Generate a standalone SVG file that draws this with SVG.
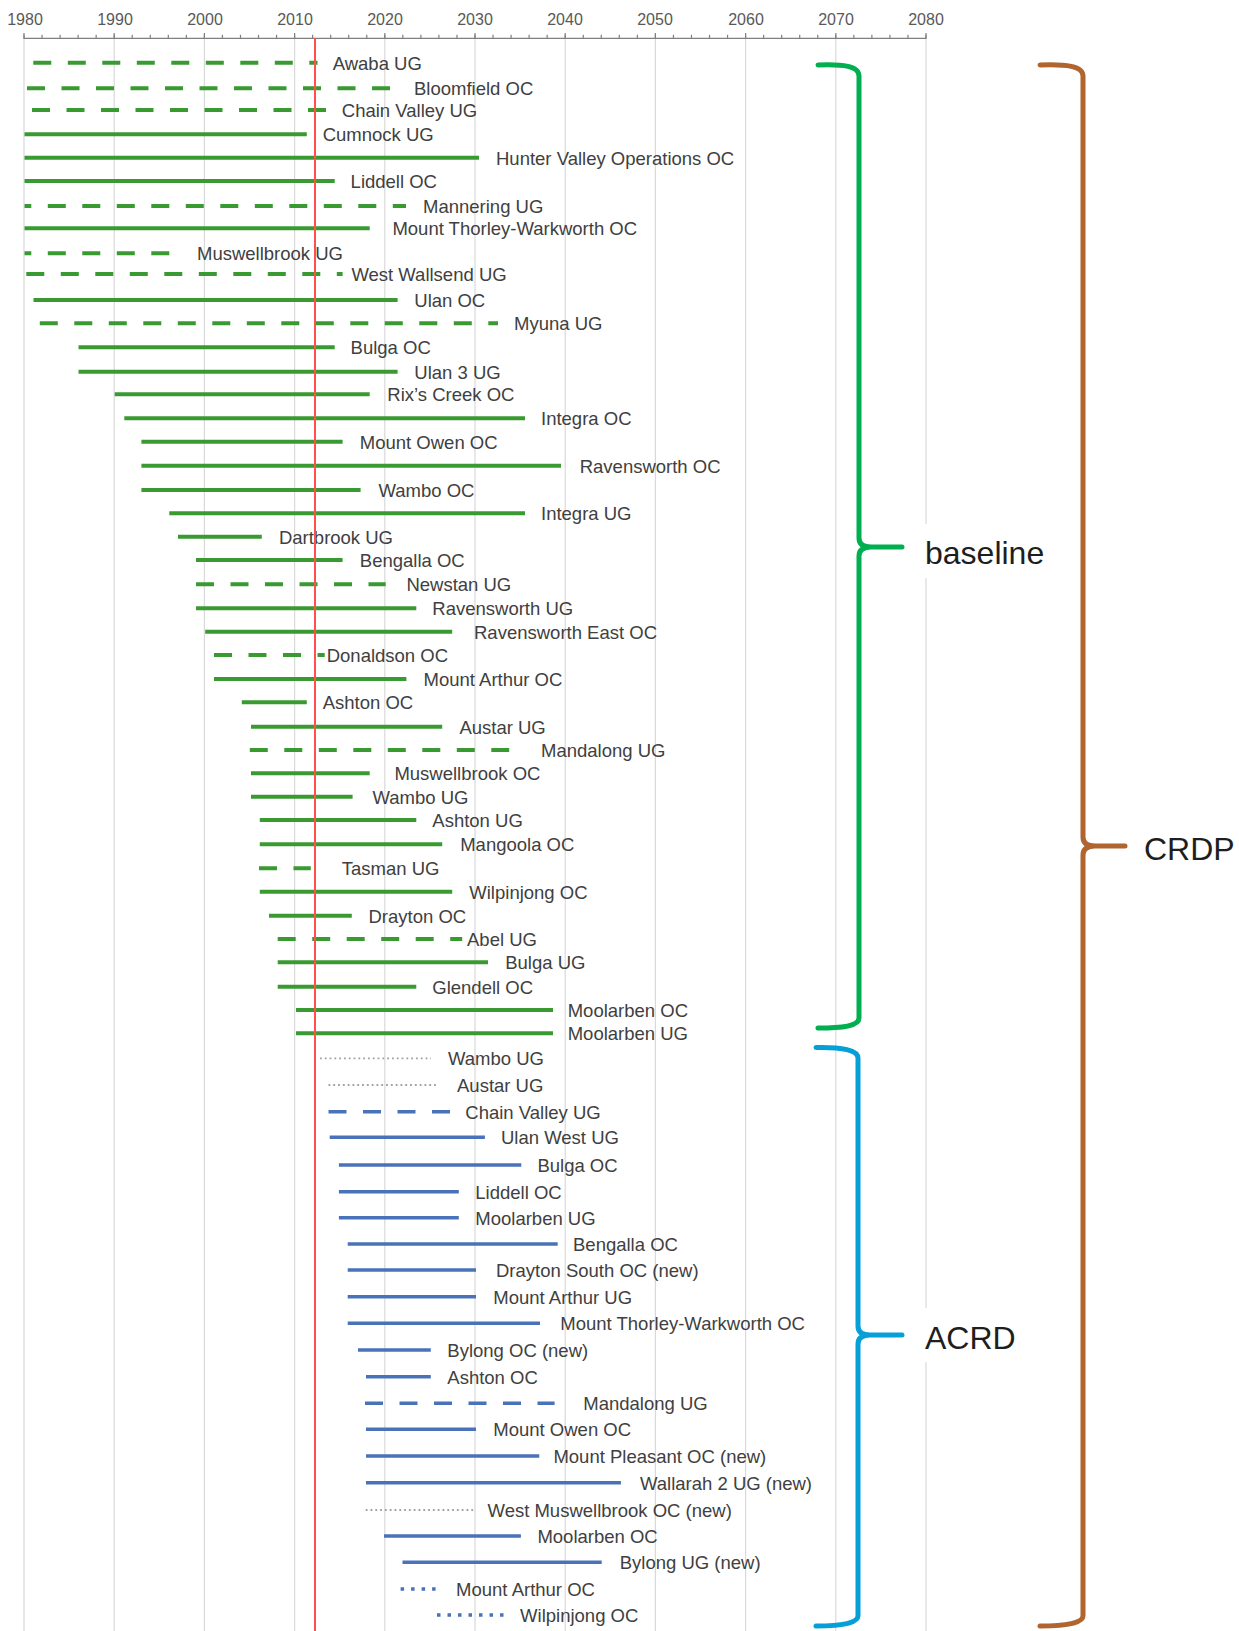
<svg xmlns="http://www.w3.org/2000/svg" width="1239" height="1631" viewBox="0 0 1239 1631">
<style>
.bg{fill:#ffffff}
.grid{stroke:#d9d9d9;stroke-width:1.2;fill:none}
.axis{stroke:#808080;stroke-width:1.2;fill:none}
.yr{font-family:"Liberation Sans",Arial,sans-serif;font-size:16px;fill:#595959;text-anchor:middle}
.g{stroke:#3a9a32;stroke-width:4;fill:none}
.gd{stroke-dasharray:18 16.5}
.b{stroke:#4a72b8;stroke-width:3.5;fill:none}
.bd{stroke-dasharray:18 16.5}
.bdot{stroke-dasharray:3.5 7}
.gray{stroke:#a0a0a0;stroke-width:1.8;fill:none;stroke-dasharray:1.8 3}
.lbl{font-family:"Liberation Sans",Arial,sans-serif;font-size:18.5px;fill:#404040}
.red{stroke:#ff4f4f;stroke-width:2;fill:none}
.brace{fill:none;stroke-width:5;stroke-linecap:round;stroke-linejoin:round}
.big{font-family:"Liberation Sans",Arial,sans-serif;font-size:32px;fill:#1e1e1e}
</style>
<rect class="bg" x="0" y="0" width="1239" height="1631"/>
<g id="axis">
<g id="gridlines">
<line class="grid" x1="24" y1="38" x2="24" y2="1631"/>
<line class="grid" x1="114.2" y1="38" x2="114.2" y2="1631"/>
<line class="grid" x1="204.4" y1="38" x2="204.4" y2="1631"/>
<line class="grid" x1="294.6" y1="38" x2="294.6" y2="1631"/>
<line class="grid" x1="384.8" y1="38" x2="384.8" y2="1631"/>
<line class="grid" x1="475" y1="38" x2="475" y2="1631"/>
<line class="grid" x1="565.2" y1="38" x2="565.2" y2="1631"/>
<line class="grid" x1="655.4" y1="38" x2="655.4" y2="1631"/>
<line class="grid" x1="745.6" y1="38" x2="745.6" y2="1631"/>
<line class="grid" x1="835.8" y1="38" x2="835.8" y2="1631"/>
<line class="grid" x1="926" y1="38" x2="926" y2="1631"/>
</g>
<line class="axis" x1="24" y1="38.3" x2="926" y2="38.3"/>
<line x1="23.4" y1="36.5" x2="927" y2="36.5" stroke="#808080" stroke-width="3.6" stroke-dasharray="1.2 16.84"/>
<path class="axis" d="M24,33V39M114.2,33V39M204.4,33V39M294.6,33V39M384.8,33V39M475,33V39M565.2,33V39M655.4,33V39M745.6,33V39M835.8,33V39M926,33V39"/>
<text class="yr" x="25" y="25">1980</text>
<text class="yr" x="115" y="25">1990</text>
<text class="yr" x="205" y="25">2000</text>
<text class="yr" x="295" y="25">2010</text>
<text class="yr" x="385" y="25">2020</text>
<text class="yr" x="475" y="25">2030</text>
<text class="yr" x="565" y="25">2040</text>
<text class="yr" x="655" y="25">2050</text>
<text class="yr" x="746" y="25">2060</text>
<text class="yr" x="836" y="25">2070</text>
<text class="yr" x="926" y="25">2080</text>
</g>
<g id="baseline-rows">
<g id="b01"><line class="g gd" x1="33.3" y1="62.7" x2="317.5" y2="62.7"/><text class="lbl" x="332.7" y="69.7">Awaba UG</text></g>
<g id="b02"><line class="g gd" x1="27" y1="88.3" x2="392" y2="88.3"/><text class="lbl" x="414" y="95.3">Bloomfield OC</text></g>
<g id="b03"><line class="g gd" x1="32" y1="110" x2="326.7" y2="110"/><text class="lbl" x="341.8" y="117">Chain Valley UG</text></g>
<g id="b04"><line class="g" x1="24.5" y1="134.3" x2="306.8" y2="134.3"/><text class="lbl" x="322.7" y="141.3">Cumnock UG</text></g>
<g id="b05"><line class="g" x1="24.5" y1="157.7" x2="479" y2="157.7"/><text class="lbl" x="496" y="164.7">Hunter Valley Operations OC</text></g>
<g id="b06"><line class="g" x1="24.5" y1="181" x2="334.7" y2="181"/><text class="lbl" x="350.6" y="188">Liddell OC</text></g>
<g id="b07"><line class="g gd" style="stroke-dashoffset:11.2" x1="24.5" y1="206" x2="406" y2="206"/><text class="lbl" x="423" y="213">Mannering UG</text></g>
<g id="b08"><line class="g" x1="24.5" y1="228.3" x2="369.7" y2="228.3"/><text class="lbl" x="392.4" y="235.3">Mount Thorley-Warkworth OC</text></g>
<g id="b09"><line class="g gd" style="stroke-dashoffset:11.2" x1="24.5" y1="253.3" x2="171.3" y2="253.3"/><text class="lbl" x="197" y="260.3">Muswellbrook UG</text></g>
<g id="b10"><line class="g gd" x1="26.3" y1="274" x2="342.6" y2="274"/><text class="lbl" x="351.4" y="281">West Wallsend UG</text></g>
<g id="b11"><line class="g" x1="33.5" y1="300" x2="397.6" y2="300"/><text class="lbl" x="414.3" y="307">Ulan OC</text></g>
<g id="b12"><line class="g gd" x1="39.8" y1="323.3" x2="498" y2="323.3"/><text class="lbl" x="514" y="330.3">Myuna UG</text></g>
<g id="b13"><line class="g" x1="78.5" y1="347.3" x2="334.7" y2="347.3"/><text class="lbl" x="350.6" y="354.3">Bulga OC</text></g>
<g id="b14"><line class="g" x1="78.5" y1="371.7" x2="397.6" y2="371.7"/><text class="lbl" x="414.3" y="378.7">Ulan 3 UG</text></g>
<g id="b15"><line class="g" x1="114.7" y1="394.3" x2="369.7" y2="394.3"/><text class="lbl" x="387.3" y="401.3">Rix’s Creek OC</text></g>
<g id="b16"><line class="g" x1="124.3" y1="418.3" x2="525" y2="418.3"/><text class="lbl" x="541" y="425.3">Integra OC</text></g>
<g id="b17"><line class="g" x1="141.4" y1="441.7" x2="342.6" y2="441.7"/><text class="lbl" x="359.8" y="448.7">Mount Owen OC</text></g>
<g id="b18"><line class="g" x1="141.4" y1="465.7" x2="561" y2="465.7"/><text class="lbl" x="579.7" y="472.7">Ravensworth OC</text></g>
<g id="b19"><line class="g" x1="141.4" y1="490" x2="360.6" y2="490"/><text class="lbl" x="378.5" y="497">Wambo OC</text></g>
<g id="b20"><line class="g" x1="169.3" y1="513.3" x2="525" y2="513.3"/><text class="lbl" x="541" y="520.3">Integra UG</text></g>
<g id="b21"><line class="g" x1="178" y1="536.7" x2="261.8" y2="536.7"/><text class="lbl" x="278.9" y="543.7">Dartbrook UG</text></g>
<g id="b22"><line class="g" x1="196" y1="560" x2="342.6" y2="560"/><text class="lbl" x="359.8" y="567">Bengalla OC</text></g>
<g id="b23"><line class="g gd" x1="196" y1="584.3" x2="385.7" y2="584.3"/><text class="lbl" x="406.4" y="591.3">Newstan UG</text></g>
<g id="b24"><line class="g" x1="196" y1="608.3" x2="416.3" y2="608.3"/><text class="lbl" x="432.3" y="615.3">Ravensworth UG</text></g>
<g id="b25"><line class="g" x1="205.2" y1="631.7" x2="452.2" y2="631.7"/><text class="lbl" x="474" y="638.7">Ravensworth East OC</text></g>
<g id="b26"><line class="g gd" x1="214" y1="655" x2="324.7" y2="655"/><text class="lbl" x="326.7" y="662">Donaldson OC</text></g>
<g id="b27"><line class="g" x1="214" y1="679" x2="406.4" y2="679"/><text class="lbl" x="423.5" y="686">Mount Arthur OC</text></g>
<g id="b28"><line class="g" x1="241.8" y1="702.3" x2="306.8" y2="702.3"/><text class="lbl" x="322.7" y="709.3">Ashton OC</text></g>
<g id="b29"><line class="g" x1="251" y1="726.7" x2="442.2" y2="726.7"/><text class="lbl" x="459.4" y="733.7">Austar UG</text></g>
<g id="b30"><line class="g gd" x1="249.8" y1="750" x2="509.2" y2="750"/><text class="lbl" x="541" y="757">Mandalong UG</text></g>
<g id="b31"><line class="g" x1="251" y1="773.3" x2="369.7" y2="773.3"/><text class="lbl" x="394.4" y="780.3">Muswellbrook OC</text></g>
<g id="b32"><line class="g" x1="251" y1="796.7" x2="352.6" y2="796.7"/><text class="lbl" x="372.5" y="803.7">Wambo UG</text></g>
<g id="b33"><line class="g" x1="259.8" y1="820" x2="416.3" y2="820"/><text class="lbl" x="432.3" y="827">Ashton UG</text></g>
<g id="b34"><line class="g" x1="259.8" y1="844.3" x2="442.2" y2="844.3"/><text class="lbl" x="460.2" y="851.3">Mangoola OC</text></g>
<g id="b35"><line class="g gd" x1="259" y1="868.3" x2="310.8" y2="868.3"/><text class="lbl" x="341.8" y="875.3">Tasman UG</text></g>
<g id="b36"><line class="g" x1="259.8" y1="891.7" x2="452.2" y2="891.7"/><text class="lbl" x="469.3" y="898.7">Wilpinjong OC</text></g>
<g id="b37"><line class="g" x1="269" y1="915.7" x2="351.8" y2="915.7"/><text class="lbl" x="368.5" y="922.7">Drayton OC</text></g>
<g id="b38"><line class="g gd" x1="277.7" y1="939" x2="462.2" y2="939"/><text class="lbl" x="467" y="946">Abel UG</text></g>
<g id="b39"><line class="g" x1="277.7" y1="962.3" x2="488" y2="962.3"/><text class="lbl" x="505.2" y="969.3">Bulga UG</text></g>
<g id="b40"><line class="g" x1="277.7" y1="986.7" x2="416.3" y2="986.7"/><text class="lbl" x="432.3" y="993.7">Glendell OC</text></g>
<g id="b41"><line class="g" x1="296" y1="1010" x2="553" y2="1010"/><text class="lbl" x="567.7" y="1017">Moolarben OC</text></g>
<g id="b42"><line class="g" x1="296" y1="1033.3" x2="553" y2="1033.3"/><text class="lbl" x="567.7" y="1040.3">Moolarben UG</text></g>
</g>
<g id="acrd-rows">
<g id="a01"><line class="gray" x1="320" y1="1058.3" x2="431" y2="1058.3"/><text class="lbl" x="448" y="1065.3">Wambo UG</text></g>
<g id="a02"><line class="gray" x1="328.5" y1="1085" x2="437.7" y2="1085"/><text class="lbl" x="457" y="1092">Austar UG</text></g>
<g id="a03"><line class="b bd" x1="328.5" y1="1111.7" x2="450" y2="1111.7"/><text class="lbl" x="465.3" y="1118.7">Chain Valley UG</text></g>
<g id="a04"><line class="b" x1="329.7" y1="1137.3" x2="484.9" y2="1137.3"/><text class="lbl" x="501" y="1144.3">Ulan West UG</text></g>
<g id="a05"><line class="b" x1="338.9" y1="1165" x2="521.3" y2="1165"/><text class="lbl" x="537.4" y="1172">Bulga OC</text></g>
<g id="a06"><line class="b" x1="338.9" y1="1191.7" x2="458.8" y2="1191.7"/><text class="lbl" x="475.3" y="1198.7">Liddell OC</text></g>
<g id="a07"><line class="b" x1="338.9" y1="1217.7" x2="458.8" y2="1217.7"/><text class="lbl" x="475.3" y="1224.7">Moolarben UG</text></g>
<g id="a08"><line class="b" x1="347.7" y1="1244" x2="557.7" y2="1244"/><text class="lbl" x="573" y="1251">Bengalla OC</text></g>
<g id="a09"><line class="b" x1="347.7" y1="1270" x2="476" y2="1270"/><text class="lbl" x="496" y="1277">Drayton South OC (new)</text></g>
<g id="a10"><line class="b" x1="347.7" y1="1296.7" x2="476" y2="1296.7"/><text class="lbl" x="493.3" y="1303.7">Mount Arthur UG</text></g>
<g id="a11"><line class="b" x1="347.7" y1="1323.3" x2="540" y2="1323.3"/><text class="lbl" x="560.3" y="1330.3">Mount Thorley-Warkworth OC</text></g>
<g id="a12"><line class="b" x1="358" y1="1350" x2="430.8" y2="1350"/><text class="lbl" x="447.3" y="1357">Bylong OC (new)</text></g>
<g id="a13"><line class="b" x1="366" y1="1376.7" x2="430.8" y2="1376.7"/><text class="lbl" x="447.3" y="1383.7">Ashton OC</text></g>
<g id="a14"><line class="b bd" x1="365" y1="1403.3" x2="554.6" y2="1403.3"/><text class="lbl" x="583.3" y="1410.3">Mandalong UG</text></g>
<g id="a15"><line class="b" x1="366" y1="1429.3" x2="476" y2="1429.3"/><text class="lbl" x="493.3" y="1436.3">Mount Owen OC</text></g>
<g id="a16"><line class="b" x1="366" y1="1456" x2="539.3" y2="1456"/><text class="lbl" x="553.4" y="1463">Mount Pleasant OC (new)</text></g>
<g id="a17"><line class="b" x1="366" y1="1482.7" x2="620.9" y2="1482.7"/><text class="lbl" x="640" y="1489.7">Wallarah 2 UG (new)</text></g>
<g id="a18"><line class="gray" x1="365.7" y1="1510" x2="473.4" y2="1510"/><text class="lbl" x="487.5" y="1517">West Muswellbrook OC (new)</text></g>
<g id="a19"><line class="b" x1="384" y1="1536" x2="520.9" y2="1536"/><text class="lbl" x="537.4" y="1543">Moolarben OC</text></g>
<g id="a20"><line class="b" x1="402.5" y1="1562.3" x2="601.7" y2="1562.3"/><text class="lbl" x="619.7" y="1569.3">Bylong UG (new)</text></g>
<g id="a21"><line class="b bdot" x1="400.6" y1="1589" x2="436" y2="1589"/><text class="lbl" x="456.1" y="1596">Mount Arthur OC</text></g>
<g id="a22"><line class="b bdot" x1="437" y1="1615" x2="504" y2="1615"/><text class="lbl" x="520.1" y="1622">Wilpinjong OC</text></g>
</g>
<line id="current-year" class="red" x1="315" y1="38" x2="315" y2="1631"/>
<g id="brace-baseline">
<path class="brace" stroke="#00b050" d="M818,65 C843,64 859,66 859,76 L859,538 C859,544 863,547 871,547 L902,547 M871,547 C863,547 859,550 859,556 L859,1018 C859,1026 843,1028 818,1028"/>
<rect class="bg" x="915" y="524" width="135" height="54"/>
<text class="big" x="925" y="564">baseline</text>
</g>
<g id="brace-acrd">
<path class="brace" stroke="#05a0d8" d="M816,1047.5 C842,1047 858,1050 858,1058 L858,1326 C858,1332 862,1335 870,1335 L902,1335 M870,1335 C862,1335 858,1338 858,1344 L858,1616 C858,1623 842,1626 816,1626"/>
<rect class="bg" x="915" y="1308" width="110" height="54"/>
<text class="big" x="925" y="1349">ACRD</text>
</g>
<g id="brace-crdp">
<path class="brace" stroke="#b0652f" d="M1040,65 C1066,64 1083,66 1083,76 L1083,837 C1083,843 1087,846 1095,846 L1125,846 M1095,846 C1087,846 1083,849 1083,855 L1083,1616 C1083,1623 1066,1626 1040,1626"/>
<text class="big" x="1144" y="860">CRDP</text>
</g>
</svg>
